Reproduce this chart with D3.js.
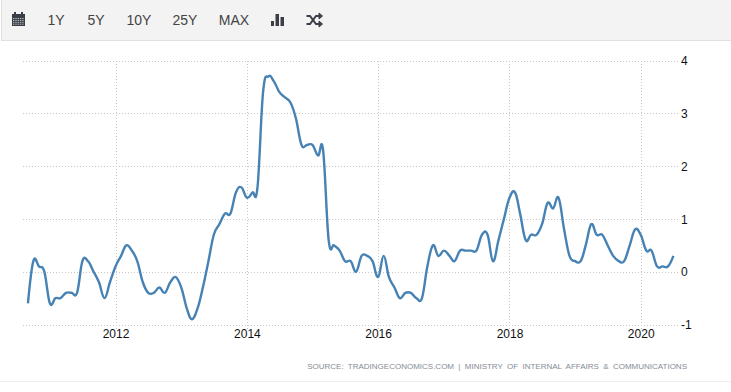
<!DOCTYPE html>
<html lang="en">
<head>
<meta charset="utf-8">
<script src="https://d3js.org/d3.v7.min.js"></script>
<style>
  html, body { margin: 0; padding: 0; background: #fff; overflow: hidden; }
  svg { display: block; }
  .grid line { stroke: #c8c8c8; stroke-dasharray: 1 2; shape-rendering: crispEdges; }
  .axis text { font-family: "Liberation Sans", Arial, sans-serif; font-size: 12px; fill: #111; }
  .axis .domain { display: none; }
  .axis .tick line { stroke: #c8c8c8; }
  .range-btn { font-family: "Liberation Sans", Arial, sans-serif; font-size: 14px; fill: #444; text-anchor: middle; }
  .source { font-family: "Liberation Sans", Arial, sans-serif; font-size: 8px; fill: #858c96; word-spacing: 2.1px; text-anchor: end; }
</style>
</head>
<body>
<svg id="chart" width="731" height="392"></svg>
<script>
// monthly values, first one is sep 2010
var startDate = new Date(2010, 8, 1);
var values = [
  -0.6, 0.2, 0.1, 0.0,
  -0.6, -0.5, -0.5, -0.4, -0.4, -0.4, 0.2, 0.2, 0.0, -0.2, -0.5, -0.2,
  0.1, 0.3, 0.5, 0.4, 0.2, -0.2, -0.4, -0.4, -0.3, -0.4, -0.2, -0.1,
  -0.3, -0.7, -0.9, -0.7, -0.3, 0.2, 0.7, 0.9, 1.1, 1.1, 1.5, 1.6,
  1.4, 1.5, 1.6, 3.4, 3.7, 3.6, 3.4, 3.3, 3.2, 2.9, 2.4, 2.4,
  2.4, 2.2, 2.3, 0.6, 0.5, 0.4, 0.2, 0.2, 0.0, 0.3, 0.3, 0.2,
  -0.1, 0.3, -0.1, -0.3, -0.5, -0.4, -0.4, -0.5, -0.5, 0.1, 0.5, 0.3,
  0.4, 0.3, 0.2, 0.4, 0.4, 0.4, 0.4, 0.7, 0.7, 0.2, 0.6, 1.0,
  1.4, 1.5, 1.1, 0.6, 0.7, 0.7, 0.9, 1.3, 1.2, 1.4, 0.8, 0.3,
  0.2, 0.2, 0.5, 0.9, 0.7, 0.7, 0.5, 0.3, 0.2, 0.2, 0.5, 0.8,
  0.7, 0.4, 0.4, 0.1, 0.1, 0.1, 0.3
];
var yearTicks = [2012, 2014, 2016, 2018, 2020];
var yTicks = [-1, 0, 1, 2, 3, 4];
var rangeLabels = ['1Y', '5Y', '10Y', '25Y', 'MAX'];
var rangeCenters = [56, 96, 139, 185, 234];
var sourceText = 'SOURCE: TRADINGECONOMICS.COM | MINISTRY OF INTERNAL AFFAIRS & COMMUNICATIONS';

var data = values.map(function(v, i) {
  return { date: d3.timeMonth.offset(startDate, i), value: v };
});

var svg = d3.select('#chart');

// toolbar
svg.append('rect').attr('x', 1.5).attr('y', -1).attr('width', 731).attr('height', 41.5)
  .attr('fill', '#f3f3f3').attr('stroke', '#e0e0e0');
svg.selectAll('.range-btn').data(rangeLabels).enter().append('text')
  .attr('class', 'range-btn')
  .attr('x', function(d, i) { return rangeCenters[i]; })
  .attr('y', 25)
  .text(function(d) { return d; });

// calendar icon
var cal = svg.append('g').attr('fill', '#3a3f47');
cal.append('rect').attr('x', 12).attr('y', 14).attr('width', 13).attr('height', 12);
cal.append('rect').attr('x', 14).attr('y', 12).attr('width', 2).attr('height', 3);
cal.append('rect').attr('x', 21).attr('y', 12).attr('width', 2).attr('height', 3);
d3.range(4).forEach(function(r) {
  d3.range(5).forEach(function(c) {
    cal.append('rect').attr('x', 13 + c * 2.3).attr('y', 18 + r * 1.9)
      .attr('width', 1.4).attr('height', 1).attr('fill', '#b9bcc0');
  });
});

// bars icon
var bars = svg.append('g').attr('fill', '#3a3f47');
bars.append('rect').attr('x', 271).attr('y', 21).attr('width', 3).attr('height', 5);
bars.append('rect').attr('x', 275.5).attr('y', 14).attr('width', 3.5).attr('height', 12);
bars.append('rect').attr('x', 280.5).attr('y', 17).attr('width', 3.5).attr('height', 9);

// shuffle icon
var shuf = svg.append('g').attr('fill', 'none').attr('stroke', '#3a3f47').attr('stroke-width', 2);
shuf.append('path').attr('d', 'M306.5 16h3.5l6 8h4');
shuf.append('path').attr('d', 'M306.5 24h3.5l6 -8h4');
shuf.append('path').attr('d', 'M319 13l3.5 3l-3.5 3z').attr('fill', '#3a3f47').attr('stroke-width', 1);
shuf.append('path').attr('d', 'M319 21l3.5 3l-3.5 3z').attr('fill', '#3a3f47').attr('stroke-width', 1);

// scales
var x = d3.scaleTime()
  .domain([new Date(2012, 0, 1), new Date(2020, 0, 1)])
  .range([115.5, 640.7]);
var y = d3.scaleLinear()
  .domain([-1, 4])
  .range([324.5, 60.5]);
var left = 23, right = 678;

// grid
var gridG = svg.append('g').attr('class', 'grid');
gridG.selectAll('.h').data(yTicks).enter().append('line')
  .attr('x1', left).attr('x2', right)
  .attr('y1', function(d) { return Math.round(y(d)) + 0.5; })
  .attr('y2', function(d) { return Math.round(y(d)) + 0.5; });
gridG.selectAll('.v').data(yearTicks).enter().append('line')
  .attr('x1', function(d) { return Math.round(x(new Date(d, 0, 1))) + 0.5; })
  .attr('x2', function(d) { return Math.round(x(new Date(d, 0, 1))) + 0.5; })
  .attr('y1', 60.5).attr('y2', 329);

// axes
var xAxis = d3.axisBottom(x)
  .tickValues(yearTicks.map(function(d) { return new Date(d, 0, 1); }))
  .tickFormat(d3.timeFormat('%Y'))
  .tickSize(0)
  .tickPadding(5);
svg.append('g').attr('class', 'axis')
  .attr('transform', 'translate(0,' + 324.5 + ')')
  .call(xAxis);

var yAxis = d3.axisRight(y)
  .tickValues(yTicks)
  .tickFormat(d3.format('d'))
  .tickSize(0)
  .tickPadding(0);
var yG = svg.append('g').attr('class', 'axis')
  .attr('transform', 'translate(681,0)')
  .call(yAxis);
yG.selectAll('text').attr('dy', '0.35em').text(function(d) { return d < 0 ? '-' + Math.abs(d) : d; });

// line, tension below zero gives the rounder spline of the original
var line = d3.line()
  .x(function(d) { return x(d.date); })
  .y(function(d) { return y(d.value); })
  .curve(d3.curveCardinal.tension(-0.2));
svg.append('path').datum(data)
  .attr('d', line)
  .attr('fill', 'none')
  .attr('stroke', '#4682b4')
  .attr('stroke-width', 2.4);

// source
svg.append('text').attr('class', 'source')
  .attr('x', 687).attr('y', 369)
  .text(sourceText);

// bottom rule
svg.append('line').attr('x1', 0).attr('x2', 731).attr('y1', 381.5).attr('y2', 381.5)
  .attr('stroke', '#f0f0f0');
</script>
</body>
</html>
